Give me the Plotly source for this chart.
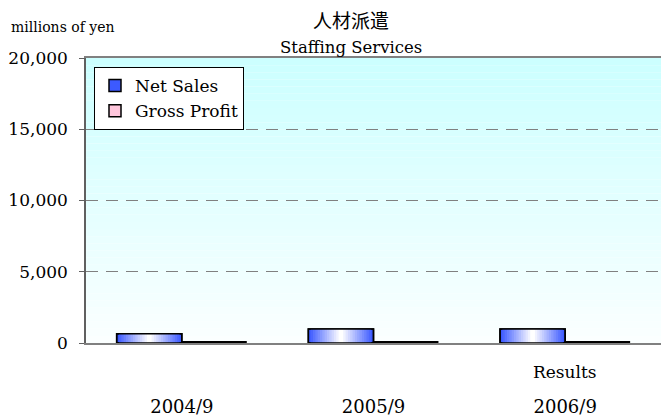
import plotly.graph_objects as go

categories = ["2004/9", "2005/9", "2006/9"]
net_sales = [650, 980, 980]
gross_profit = [80, 80, 80]
period_note = "Results"
y_ticks = [0, 5000, 10000, 15000, 20000]
y_ticktext = ["0", "5,000", "10,000", "15,000", "20,000"]

FONT = "DejaVu Serif, Noto Sans CJK JP, serif"
# the page body has an 8px margin, so the figure is drawn 8px in from the corner
PAGE = 8
W, H = 669 - PAGE, 418 - PAGE
ML, MR, MT, MB = 86 - PAGE, 8, 58 - PAGE, 75

fig = go.Figure()

# Net Sales: horizontal blue-white-blue gradient approximated by nested bars
NS_OFF, NS_W = -0.34, 0.34
k = 14
edge = (60, 90, 255)
for j in range(k):
    frac = 1 - j / k
    w = NS_W * frac
    off = NS_OFF + (NS_W - w) / 2
    t = j / (k - 1)
    c = tuple(int(edge[i] + (255 - edge[i]) * t) for i in range(3))
    fig.add_trace(go.Bar(
        x=categories, y=net_sales, name="Net Sales",
        width=w, offset=off, showlegend=(j == 0), legendgroup="ns",
        marker=dict(color=f"rgb{c}",
                    line=dict(color="black", width=1.5 if j == 0 else 0)),
        hoverinfo="skip" if j else None,
    ))
fig.add_trace(go.Bar(
    x=categories, y=net_sales, name="Net Sales", width=NS_W, offset=NS_OFF,
    showlegend=False, legendgroup="ns",
    marker=dict(color="rgba(0,0,0,0)", line=dict(color="black", width=1.5)),
))

fig.add_trace(go.Bar(
    x=categories, y=gross_profit, name="Gross Profit", width=0.335, offset=0,
    marker=dict(color="#FFC6DC", line=dict(color="black", width=1.5)),
))

# gradient background: cyan at top fading to near white at bottom
n = 40
shapes = []
for i in range(n):
    t = i / (n - 1)
    r = int(0xCC + (0xFB - 0xCC) * (1 - t))
    shapes.append(dict(type="rect", xref="x domain", yref="y domain",
                       x0=0, x1=1, y0=i / n, y1=(i + 1) / n,
                       fillcolor=f"rgb({r},255,255)", line=dict(width=0),
                       layer="below"))

pw = W - ML - MR
ph = H - MT - MB


def px(x):
    return (x - PAGE - ML) / pw


def py(y):
    return (H - MB - (y - PAGE)) / ph


fig.update_layout(
    width=W, height=H,
    margin=dict(l=ML, r=MR, t=MT, b=MB, autoexpand=False),
    paper_bgcolor="white",
    plot_bgcolor="white",
    barmode="overlay",
    shapes=shapes,
    font=dict(family=FONT, size=16, color="black"),
    showlegend=True,
    legend=dict(x=px(94), y=py(67), xanchor="left", yanchor="top",
                bgcolor="white", bordercolor="black", borderwidth=1,
                font=dict(size=17, family=FONT), tracegroupgap=0,
                itemwidth=30, traceorder="normal"),
    xaxis=dict(type="category", range=[-0.5, 2.5], automargin=False,
               showline=True, linecolor="#808080", linewidth=1.5, mirror=True,
               ticks="", showgrid=False, ticklabelstandoff=47,
               tickfont=dict(size=18, family=FONT)),
    yaxis=dict(range=[0, 20000], tickvals=y_ticks, ticktext=y_ticktext,
               automargin=False,
               showline=True, linecolor="#606060", linewidth=1.5, mirror=True,
               ticks="outside", ticklen=5, tickcolor="#606060",
               ticklabelstandoff=8,
               showgrid=True, gridcolor="#808080", griddash="12px,8px",
               gridwidth=1, zeroline=False,
               tickfont=dict(size=17, family=FONT)),
    annotations=[
        dict(text="人材派遣", x=px(351), y=py(21), xref="paper", yref="paper",
             showarrow=False, xanchor="center", yanchor="middle",
             font=dict(size=19, family=FONT)),
        dict(text="Staffing Services", x=px(351), y=py(47), xref="paper",
             yref="paper", showarrow=False, xanchor="center", yanchor="middle",
             font=dict(size=16.5, family=FONT)),
        dict(text="millions of yen", x=px(8.5), y=py(27), xref="paper",
             yref="paper", showarrow=False, xanchor="left", yanchor="middle",
             font=dict(size=14, family=FONT)),
        dict(text=period_note, x=categories[2], y=py(372), xref="x",
             yref="paper", showarrow=False, xanchor="center", yanchor="middle",
             font=dict(size=17, family=FONT)),
    ],
)

fig.write_html("out.html")
